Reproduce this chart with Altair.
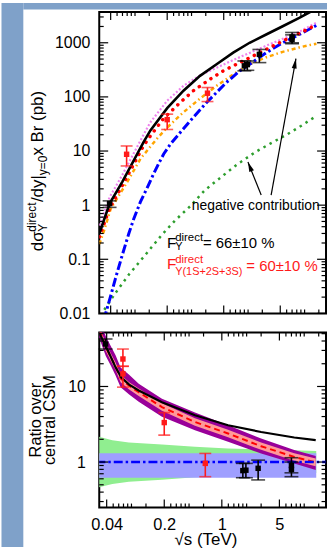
import altair as alt
import pandas as pd

FONT = "Liberation Sans"
STRIP = "#7fa1c9"
RED = "#ff1a1a"

# ---------------- top panel: d sigma/dy x Br (pb) ----------------
blk_x = [0.029, 0.0388, 0.0557, 0.102, 0.124, 0.2, 0.318, 0.509, 0.816, 1.31, 2.09, 3.35, 5.36, 8.59, 12.5, 14.0]
blk_y = [0.30, 1.07, 2.7, 14.6, 24, 62, 130, 245, 400, 656, 1000, 1420, 2020, 2880, 3900, 4250]
vio_x = [0.029, 0.0388, 0.0557, 0.102, 0.124, 0.2, 0.318, 0.509, 0.816, 1.31, 2.09, 3.35, 5.36, 8.59, 14.0]
vio_y = [0.42, 1.4, 3.6, 20, 34, 85, 160, 250, 345, 480, 650, 880, 1180, 1600, 2350]
red_x = [0.029, 0.0388, 0.0557, 0.102, 0.124, 0.181, 0.29, 0.421, 0.676, 0.985, 1.58, 2.53, 4.04, 5.9, 9.42, 14.0]
red_y = [0.26, 0.88, 2.3, 12.5, 19, 40, 79, 130, 212, 302, 430, 611, 869, 1150, 1590, 2150]
org_x = [0.029, 0.033, 0.04, 0.0643, 0.0935, 0.15, 0.199, 0.318, 0.509, 0.816, 1.31, 2.09, 3.35, 5.36, 8.59, 12.5, 14.0]
org_y = [0.19, 0.33, 0.85, 2.7, 7.2, 17, 27, 52, 93, 160, 260, 400, 540, 680, 820, 930, 960]
blu_x = [0.0335, 0.0347, 0.04, 0.046, 0.0557, 0.0671, 0.0773, 0.0933, 0.115, 0.136, 0.16, 0.181, 0.22,
         0.29, 0.421, 0.615, 0.816, 1.08, 1.58, 2.09, 3.35, 5.36, 8.59, 14.0]
blu_y = [0.0075, 0.01, 0.021, 0.045, 0.12, 0.3, 0.56, 1.15, 2.2, 3.8, 6.2, 8.8, 13.5,
         22, 42, 79, 121, 185, 302, 400, 656, 1000, 1420, 2100]
grn_x = [0.0305, 0.0317, 0.046, 0.067, 0.108, 0.172, 0.25, 0.384, 0.586, 1.0, 1.5, 2.5, 3.86, 6.0, 9.0, 13.8]
grn_y = [0.009, 0.0104, 0.024, 0.052, 0.122, 0.284, 0.52, 0.95, 1.9, 3.6, 5.8, 9.7, 14, 20, 29, 44]

top_blk_x = [0.0388, 1.8, 1.96, 2.76, 7.0, 7.0]
top_blk_y = [1.07, 375, 395, 611, 1280, 1150]
top_blk_lo = [0.91, 303, 310, 430, 1000, 959]
top_blk_hi = [1.2, 461, 461, 753, 1550, 1400]
top_red_x = [0.063, 0.2, 0.63]
top_red_y = [8.7, 38, 117]
top_red_lo = [5.3, 25, 82]
top_red_hi = [12.4, 48, 149]

# ---------------- bottom panel: ratio over central CSM ----------------
gb_x = [0.03, 0.0469, 0.0743, 0.1876, 0.472, 1.19, 3.0, 7.57, 14.0]
gb_hi = [2.2, 1.95, 1.82, 1.71, 1.59, 1.51, 1.47, 1.43, 1.40]
gb_lo = [0.455, 0.513, 0.549, 0.585, 0.629, 0.662, 0.680, 0.699, 0.714]
bb_x = [0.03, 14.0]
bb_lo = [0.62, 0.62]
bb_hi = [1.31, 1.31]
one_x = [0.03, 18.4]
one_y = [1.0, 1.0]

rc_x = [0.03, 0.0336, 0.035, 0.039, 0.045, 0.0513, 0.059, 0.075, 0.098, 0.1876, 0.472, 1.19, 3.0, 7.57, 13.8]
rc_y = [72, 51.7, 45.7, 33, 24.4, 18.5, 12.8, 10.2, 8.4, 5.34, 3.39, 2.39, 1.62, 1.17, 0.99]
pu_hi = [100.8, 72.4, 64, 46.2, 34.2, 25.9, 17.9, 14.3, 10.9, 6.89, 4.51, 3.07, 2.05, 1.44, 1.2]
pu_lo = [55.4, 39.8, 35.2, 25.4, 18.8, 14.0, 9.8, 7.85, 6.3, 3.97, 2.64, 1.85, 1.30, 0.96, 0.785]
pk_hi = [80.6, 57.9, 51.2, 37, 27.3, 20.7, 14.3, 11.4, 9.4, 5.98, 3.8, 2.68, 1.81, 1.31, 1.11]
pk_lo = [64.3, 46.2, 40.8, 29.5, 21.8, 16.5, 11.4, 9.1, 7.5, 4.77, 3.03, 2.13, 1.45, 1.04, 0.88]
rb_x = [0.03, 0.0323, 0.0389, 0.0513, 0.06, 0.075, 0.098, 0.1876, 0.472, 1.19, 3.0, 7.57, 13.8]
rb_y = [60.8, 51.8, 34.6, 17.9, 13.2, 10.6, 8.86, 6.2, 4.15, 3.07, 2.5, 2.11, 1.95]

bot_blk_x = [0.0388, 1.8, 1.96, 2.76, 7.0, 7.0]
bot_blk_y = [36.5, 0.77, 0.78, 0.826, 0.90, 0.80]
bot_blk_lo = [31.3, 0.62, 0.62, 0.58, 0.72, 0.64]
bot_blk_hi = [42.5, 0.96, 0.96, 1.06, 1.14, 1.0]
bot_red_x = [0.063, 0.063, 0.2, 0.63]
bot_red_y = [23.1, 14.7, 3.33, 0.96]
bot_red_lo = [18.5, 9.8, 2.27, 0.64]
bot_red_hi = [31.3, 18.5, 4.51, 1.30]

# ---------------- axes / ticks ----------------
x_major = [0.04, 0.2, 1, 5]
x_minor = [0.048, 0.056, 0.064, 0.072, 0.08, 0.12, 0.24, 0.28, 0.32, 0.36, 0.4, 0.6,
           1.2, 1.4, 1.6, 1.8, 2, 3, 6, 7, 8, 9, 10, 15]
top_y_major = [0.01, 0.1, 1, 10, 100, 1000]
top_y_minor = [m * 10.0 ** e for e in range(-2, 4) for m in range(2, 10) if m * 10.0 ** e < 3700]
bot_y_major = [1, 10]
bot_y_minor = [0.3, 0.4, 0.5, 0.6, 0.7, 0.8, 0.9, 2, 3, 4, 5, 6, 7, 8, 9, 20, 30, 40, 50]

W = 228.5
H_TOP = 303.7
H_BOT = 176.3
GAP = 19

xs_top = alt.Scale(type="log", domain=[0.0289, 18.4], nice=False)
ys_top = alt.Scale(type="log", domain=[0.01, 3700], nice=False)
xs_bot = alt.Scale(type="log", domain=[0.0325, 18.4], nice=False)
ys_bot = alt.Scale(type="log", domain=[0.25, 51.7], nice=False)

top_yaxis = alt.Axis(values=top_y_major, format="~g", ticks=False, tickSize=0, domain=False, grid=False,
                     labelFont=FONT, labelFontSize=16, labelColor="black", labelPadding=9.5, title=None)
bot_yaxis = alt.Axis(values=bot_y_major, format="~g", ticks=False, tickSize=0, domain=False, grid=False,
                     labelFont=FONT, labelFontSize=16, labelColor="black", labelPadding=14, title=None)
bot_xaxis = alt.Axis(values=x_major, format="~g", ticks=False, tickSize=0, domain=False, grid=False,
                     labelFont=FONT, labelFontSize=16.5, labelColor="black", labelPadding=9, title=None)


def enc(xscale, yscale, xaxis, yaxis):
    def X(f):
        return alt.X(f"{f}:Q", scale=xscale, axis=xaxis)

    def Y(f):
        return alt.Y(f"{f}:Q", scale=yscale, axis=yaxis)
    return X, Y


XT, YT = enc(xs_top, ys_top, None, top_yaxis)
XB, YB = enc(xs_bot, ys_bot, bot_xaxis, bot_yaxis)


def curve(X, Y, xs, ys, color, width, dash=None, cap="butt"):
    df = pd.DataFrame({"x": xs, "y": ys})
    props = dict(color=color, strokeWidth=width, clip=True, strokeCap=cap)
    if dash:
        props["strokeDash"] = dash
    return alt.Chart(df).mark_line(**props).encode(x=X("x"), y=Y("y"))


def band(X, Y, xs, lo, hi, color):
    df = pd.DataFrame({"x": xs, "lo": lo, "hi": hi})
    return alt.Chart(df).mark_area(color=color, opacity=1, clip=True).encode(
        x=X("x"), y=Y("lo"), y2=alt.Y2("hi"))


def points(X, Y, xs, ys, lo, hi, color, cap):
    df = pd.DataFrame({"x": xs, "y": ys, "lo": lo, "hi": hi})
    base = alt.Chart(df)
    return [
        base.mark_rule(color=color, strokeWidth=1.6).encode(x=X("x"), y=Y("lo"), y2=alt.Y2("hi")),
        base.mark_tick(color=color, orient="horizontal", size=cap, thickness=1.6).encode(x=X("x"), y=Y("lo")),
        base.mark_tick(color=color, orient="horizontal", size=cap, thickness=1.6).encode(x=X("x"), y=Y("hi")),
        base.mark_square(color=color, size=30, opacity=1, filled=True).encode(x=X("x"), y=Y("y")),
    ]


def frame_ticks(X, Y, xmaj, xmin, ymaj, ymin, h):
    out = []
    for vals, ln in ((xmaj, 8), (xmin, 4)):
        b = alt.Chart(pd.DataFrame({"x": vals}))
        out.append(b.mark_rule(color="black", strokeWidth=1.2).encode(x=X("x"), y=alt.value(0), y2=alt.value(ln)))
        out.append(b.mark_rule(color="black", strokeWidth=1.2).encode(x=X("x"), y=alt.value(h), y2=alt.value(h - ln)))
    for vals, ln in ((ymaj, 9), (ymin, 4.5)):
        b = alt.Chart(pd.DataFrame({"y": vals}))
        out.append(b.mark_rule(color="black", strokeWidth=1.2).encode(y=Y("y"), x=alt.value(0), x2=alt.value(ln)))
        out.append(b.mark_rule(color="black", strokeWidth=1.2).encode(y=Y("y"), x=alt.value(W), x2=alt.value(W - ln)))
    return out


def text(s, x, y, size, color="black", angle=0, align="left", baseline="alphabetic"):
    return alt.Chart(pd.DataFrame({"t": [s]})).mark_text(
        text=s, font=FONT, fontSize=size, color=color, angle=angle, align=align, baseline=baseline
    ).encode(x=alt.value(x), y=alt.value(y))


def rect(x, x2, y, y2, color):
    return alt.Chart(pd.DataFrame({"a": [0]})).mark_rect(color=color).encode(
        x=alt.value(x), x2=alt.value(x2), y=alt.value(y), y2=alt.value(y2))


# arrows (data coordinates of the top panel)
arrow_df = pd.DataFrame({"x": [2.906, 3.855], "y": [1.538, 1.538], "x2": [1.991, 7.82], "y2": [6.28, 508]})
head_df = pd.DataFrame({"x": [2.10, 7.62], "y": [5.18, 414], "ang": [338.1, 10.3]})

total_h = H_TOP + GAP + H_BOT + 40

top_layers = [
    rect(-98.5, -76.5, -9, total_h, STRIP),
    rect(-76.5, 229.5, -9, -2.5, STRIP),
    curve(XT, YT, grn_x, grn_y, "#2e9e2e", 2.5, [2.5, 4.5]),
    curve(XT, YT, org_x, org_y, "#ffa500", 2.5, [4, 3, 1.5, 3]),
    curve(XT, YT, blu_x, blu_y, "#0000ff", 3, [9, 3, 2.5, 3]),
    curve(XT, YT, vio_x, vio_y, "#ee82ee", 2.2, [2, 2]),
    curve(XT, YT, red_x, red_y, "#ff0000", 3.5, [0.1, 7], "round"),
    curve(XT, YT, blk_x, blk_y, "black", 2.6),
    alt.Chart(arrow_df).mark_rule(color="black", strokeWidth=1.2).encode(
        x=XT("x"), y=YT("y"), x2=alt.X2("x2"), y2=alt.Y2("y2")),
    alt.Chart(head_df).mark_point(shape="M0,-1L0.5,1L-0.5,1Z", filled=True, color="black", opacity=1, size=100).encode(
        x=XT("x"), y=YT("y"), angle=alt.Angle("ang:Q", scale=None)),
    *points(XT, YT, top_red_x, top_red_y, top_red_lo, top_red_hi, RED, 12),
    *points(XT, YT, top_blk_x, top_blk_y, top_blk_lo, top_blk_hi, "black", 14),
    *frame_ticks(XT, YT, x_major, x_minor, top_y_major, top_y_minor, H_TOP),
    text("negative contribution", 93.2, 199, 14),
    text("F", 68.2, 237.7, 15.5),
    text("direct", 76.5, 231, 11.5),
    text("Υ", 76.5, 239.5, 11),
    text("= 66±10 %", 104.5, 237.7, 15),
    text("F", 68.2, 259.3, 15.5, RED),
    text("direct", 76.5, 252.5, 11.5, RED),
    text("Υ(1S+2S+3S)", 76.5, 265, 11, RED),
    text("= 60±10 %", 148.2, 261, 15, RED),
    # rotated y title
    text("dσ", -56.5, 241, 17, angle=270),
    text("direct", -63.5, 221.3, 12, angle=270),
    text("Υ", -53, 221.3, 12, angle=270),
    text("/dy|", -56.5, 191.5, 17, angle=270),
    text("y=0", -53, 164.4, 12, angle=270),
    text(" x Br (pb)", -56.5, 144.7, 17, angle=270),
]

bot_layers = [
    band(XB, YB, gb_x, gb_lo, gb_hi, "#90ee90"),
    band(XB, YB, bb_x, bb_lo, bb_hi, "#9f9fff"),
    band(XB, YB, rc_x, pu_lo, pu_hi, "#990099"),
    band(XB, YB, rc_x, pk_lo, pk_hi, "#ff9999"),
    curve(XB, YB, rc_x, rc_y, "#ff0000", 2, [6, 4]),
    curve(XB, YB, rb_x, rb_y, "black", 2.2),
    curve(XB, YB, one_x, one_y, "#0000ff", 2.5, [9, 3, 2.5, 3]),
    *points(XB, YB, bot_red_x, bot_red_y, bot_red_lo, bot_red_hi, RED, 12),
    *points(XB, YB, bot_blk_x, bot_blk_y, bot_blk_lo, bot_blk_hi, "black", 14),
    *frame_ticks(XB, YB, x_major, x_minor, bot_y_major, bot_y_minor, H_BOT),
    text("Ratio over", -58.5, 88.2, 16.5, angle=270, align="center"),
    text("central CSM", -45, 88.2, 16.5, angle=270, align="center"),
    text("√s (TeV)", 107.5, 214.3, 17, align="center"),
]

top = alt.layer(*top_layers).properties(width=W, height=H_TOP)
bot = alt.layer(*bot_layers).properties(width=W, height=H_BOT)

chart = alt.vconcat(top, bot, spacing=GAP, bounds="flush").properties(
    padding=0, background="white"
).configure_view(stroke="black", strokeWidth=2)

chart.save("out.html", embed_options={"renderer": "svg", "actions": False})
